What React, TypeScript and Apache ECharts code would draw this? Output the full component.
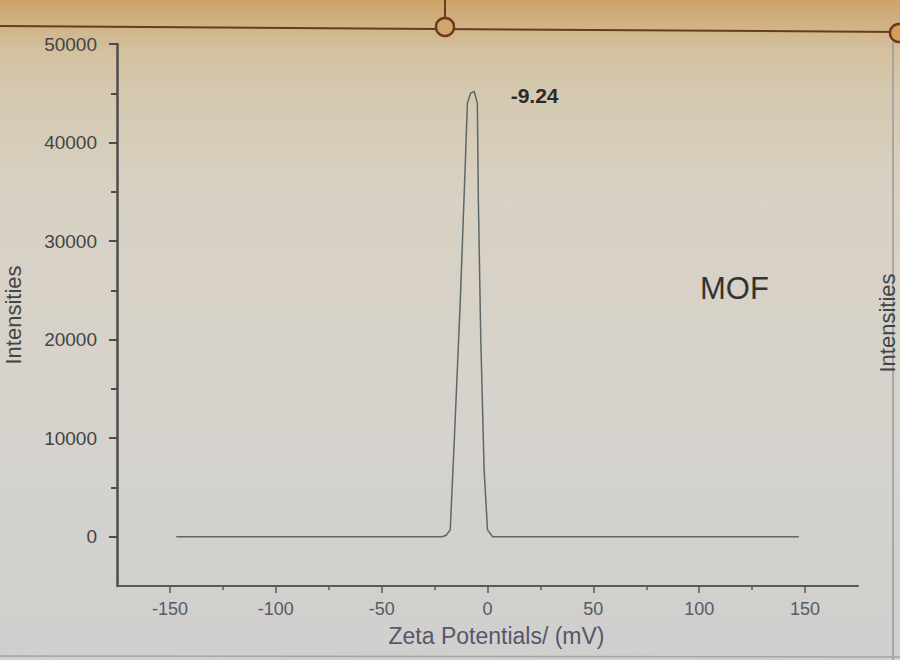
import React, { useEffect, useRef } from "react";
import * as echarts from "echarts";

const zeta = [-147, -100, -50, -25, -21.4, -19.5, -17.6, -15.6, -12.9, -10.6, -9.5, -8, -6.3, -4.8, -4.3, -3.2, -1.6, 0, 2.4, 25, 50, 100, 147];
const intensity = [0, 0, 0, 0, 0, 150, 700, 10200, 23700, 37200, 44000, 45000, 45200, 44000, 33900, 20300, 6800, 700, 0, 0, 0, 0, 0];
const peakLabel = "-9.24";
const peakPoint = [-7, 45200];
const sampleName = "MOF";
const xMajor = [-150, -100, -50, 0, 50, 100, 150];
const xMinor = [-125, -75, -25, 25, 75, 125];
const yMajor = [0, 10000, 20000, 30000, 40000, 50000];
const yMinor = [5000, 15000, 25000, 35000, 45000];

export default function App() {
  const ref = useRef<HTMLDivElement>(null);
  useEffect(() => {
    if (!ref.current) return;
    const chart = echarts.init(ref.current, null, { renderer: "svg" });
    const font = "Liberation Sans, Arial, sans-serif";
    const axisColor = "#4d4d4d";
    const baseX = {
      type: "value",
      min: -175,
      max: 175,
      position: "bottom",
      splitLine: { show: false },
    };
    const baseY = {
      type: "value",
      min: -5000,
      max: 50000,
      position: "left",
      splitLine: { show: false },
    };
    chart.setOption({
      animation: false,
      backgroundColor: {
        type: "linear", x: 0, y: 0, x2: 0, y2: 1,
        colorStops: [
          { offset: 0, color: "#c9ae82" },
          { offset: 0.08, color: "#d3c5a8" },
          { offset: 0.3, color: "#d8d1c4" },
          { offset: 0.65, color: "#d6d3cd" },
          { offset: 1, color: "#cfcfcd" },
        ],
      },
      title: {
        text: sampleName,
        left: 695,
        top: 268,
        textStyle: { fontFamily: font, fontSize: 31, fontWeight: "normal", color: "#333" },
      },
      graphic: [
        {
          type: "rect", z: -10, silent: true,
          shape: { x: 0, y: 0, width: 900, height: 90 },
          style: {
            fill: {
              type: "linear", x: 0, y: 0, x2: 0, y2: 1,
              colorStops: [
                { offset: 0, color: "rgba(214,150,75,0.45)" },
                { offset: 0.4, color: "rgba(214,160,90,0.15)" },
                { offset: 1, color: "rgba(214,160,90,0)" },
              ],
            },
          },
        },
        { type: "line", shape: { x1: 0, y1: 26, x2: 900, y2: 32 }, style: { stroke: "#6b3a1a", lineWidth: 2 } },
        { type: "line", shape: { x1: 445, y1: 0, x2: 445, y2: 18 }, style: { stroke: "#6b3a1a", lineWidth: 2 } },
        { type: "circle", shape: { cx: 445, cy: 27, r: 9 }, style: { stroke: "#6b3a1a", lineWidth: 2.5, fill: "#d2a56c" } },
        { type: "circle", shape: { cx: 899, cy: 33, r: 9 }, style: { stroke: "#6b3a1a", lineWidth: 2.5, fill: "#d49c58" } },
        { type: "line", shape: { x1: 893, y1: 42, x2: 893, y2: 660 }, style: { stroke: "#9a9a98", lineWidth: 1.5 } },
        { type: "line", shape: { x1: 0, y1: 656, x2: 900, y2: 657 }, style: { stroke: "#a5a5a3", lineWidth: 1.5 } },
        {
          type: "text", x: 887, y: 323, rotation: Math.PI / 2,
          style: { text: "Intensities", font: "22px Liberation Sans, Arial, sans-serif", fill: "#444", align: "center", verticalAlign: "middle" },
        },
      ],
      grid: { left: 117, right: 42, top: 44, bottom: 74, containLabel: false, outerBoundsMode: "none" },
      xAxis: [
        {
          ...baseX,
          name: "Zeta Potentials/ (mV)",
          nameLocation: "middle",
          nameGap: 38,
          nameTextStyle: { fontFamily: font, fontSize: 23, color: "#55576a", padding: [0, 0, 0, 18] },
          axisLine: { onZero: false, lineStyle: { color: "#5a5a5a", width: 2 } },
          axisTick: { show: true, customValues: xMajor, length: 7, lineStyle: { color: "#5a5a5a", width: 1.5 } },
          axisLabel: { customValues: xMajor, fontFamily: font, fontSize: 18, color: "#585a66", margin: 14, formatter: (v: number) => String(v) },
        },
        {
          ...baseX,
          axisLine: { show: false, onZero: false },
          axisTick: { show: true, customValues: xMinor, length: 4, lineStyle: { color: "#5a5a5a", width: 1.5 } },
          axisLabel: { show: false },
        },
      ],
      yAxis: [
        {
          ...baseY,
          name: "Intensities",
          nameLocation: "middle",
          nameRotate: 90,
          nameGap: 93,
          nameTextStyle: { fontFamily: font, fontSize: 22, color: "#444" },
          axisLine: { onZero: false, lineStyle: { color: axisColor, width: 2.5 } },
          axisTick: { show: true, customValues: yMajor, length: 8, lineStyle: { color: axisColor, width: 2 } },
          axisLabel: { customValues: yMajor, fontFamily: font, fontSize: 19, color: "#444", margin: 20, formatter: (v: number) => String(v) },
        },
        {
          ...baseY,
          axisLine: { show: false, onZero: false },
          axisTick: { show: true, customValues: yMinor, length: 6, lineStyle: { color: axisColor, width: 2 } },
          axisLabel: { show: false },
        },
      ],
      series: [
        {
          type: "line",
          data: zeta.map((x, i) => [x, intensity[i]]),
          showSymbol: false,
          symbol: "none",
          lineStyle: { color: "#5d6868", width: 1.5 },
          markPoint: {
            symbol: "circle",
            symbolSize: 0,
            data: [{ coord: peakPoint, value: peakLabel }],
            label: {
              show: true,
              position: "right",
              distance: 38,
              offset: [0, 4],
              formatter: peakLabel,
              fontFamily: font,
              fontSize: 21,
              fontWeight: "bold",
              color: "#2a2a2a",
            },
          },
        },
      ],
    });
    return () => chart.dispose();
  }, []);
  return <div ref={ref} style={{ position: "fixed", left: 0, top: 0, width: 900, height: 660 }} />;
}
